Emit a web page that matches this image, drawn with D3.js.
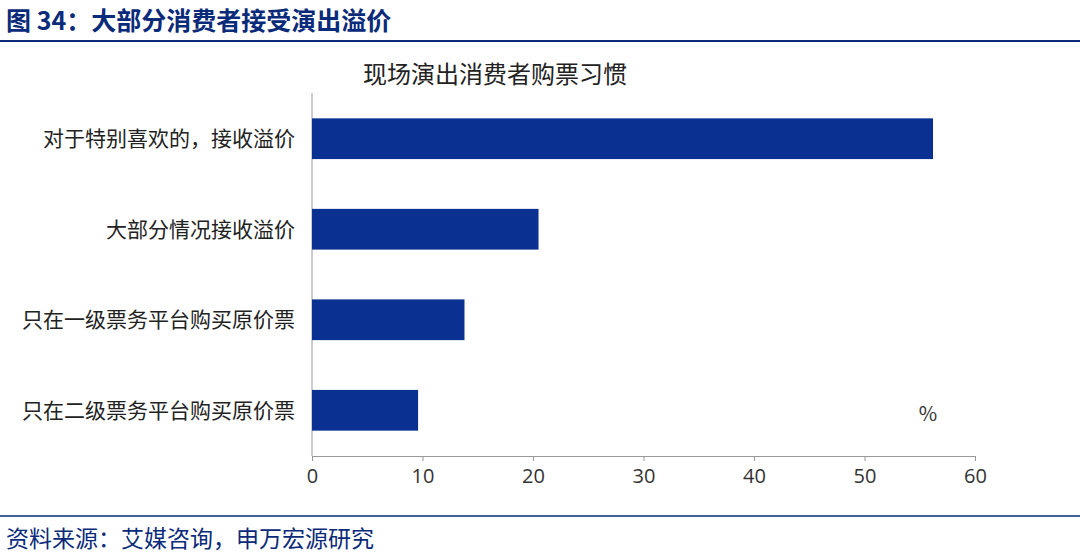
<!DOCTYPE html>
<html><head><meta charset="utf-8">
<script src="https://cdn.jsdelivr.net/npm/d3@7"></script>
<style>body{margin:0;background:#fff;font-family:"Noto Sans CJK SC","Noto Sans",sans-serif;}</style>
</head><body><div id="chart"></div>
<script>
let categories = ['对于特别喜欢的，接收溢价', '大部分情况接收溢价', '只在一级票务平台购买原价票', '只在二级票务平台购买原价票'];
let values = [56.2, 20.5, 13.8, 9.6];
let ticks = [0, 10, 20, 30, 40, 50, 60];

let W = 1080, H = 556;
let svg = d3.select('#chart').append('svg').attr('width', W).attr('height', H);
let font = '"Noto Sans CJK SC", sans-serif';

// header
svg.append('text').attr('x', 6).attr('y', 30)
    .attr('font-size', '25px').attr('font-weight', 'bold').attr('fill', '#0a2a7a')
    .attr('font-family', font).text('图 34：大部分消费者接受演出溢价');
svg.append('line').attr('x1', 0).attr('x2', W).attr('y1', 41).attr('y2', 41)
    .attr('stroke', '#0a2a7a').attr('stroke-width', 2);
svg.append('line').attr('x1', 0).attr('x2', W).attr('y1', 516).attr('y2', 516)
    .attr('stroke', '#0a2a7a').attr('stroke-width', 1.5);
svg.append('text').attr('x', 6).attr('y', 547)
    .attr('font-size', '23px').attr('fill', '#0a2a7a')
    .attr('font-family', font).text('资料来源：艾媒咨询，申万宏源研究');

// chart title
svg.append('text').attr('x', 495).attr('y', 83).attr('text-anchor', 'middle')
    .attr('font-size', '24px').attr('fill', '#222').attr('font-family', font)
    .text('现场演出消费者购票习惯');

let x = d3.scaleLinear().domain([0, 60]).range([312, 975]);
let y = d3.scaleBand().domain(categories).range([93, 456]).paddingInner(0.55).paddingOuter(0.28);

let xAxis = svg.append('g').attr('transform', 'translate(0,456)')
    .call(d3.axisBottom(x).tickValues(ticks).tickSize(5).tickSizeOuter(0));
xAxis.select('.domain').attr('stroke', '#999');
xAxis.selectAll('line').attr('stroke', '#999');
xAxis.selectAll('text').attr('font-size', '20px').attr('fill', '#333')
    .attr('font-family', '"Open Sans", sans-serif').attr('dy', '0.95em');

svg.append('line').attr('x1', 312).attr('x2', 312).attr('y1', 93).attr('y2', 456).attr('stroke', '#999');

svg.selectAll('rect.bar').data(values).enter().append('rect')
    .attr('class', 'bar')
    .attr('x', x(0))
    .attr('y', (d, i) => y(categories[i]))
    .attr('width', d => x(d) - x(0))
    .attr('height', y.bandwidth())
    .attr('fill', '#0a3091');

svg.selectAll('text.cat').data(categories).enter().append('text')
    .attr('class', 'cat')
    .attr('x', 295).attr('y', d => y(d) + y.bandwidth() / 2)
    .attr('dy', '0.35em').attr('text-anchor', 'end')
    .attr('font-size', '21px').attr('fill', '#222').attr('font-family', font)
    .text(d => d);

svg.append('text').attr('x', 928).attr('y', 421).attr('text-anchor', 'middle')
    .attr('font-size', '20px').attr('fill', '#333').attr('font-family', font).text('%');
</script>
</body></html>
